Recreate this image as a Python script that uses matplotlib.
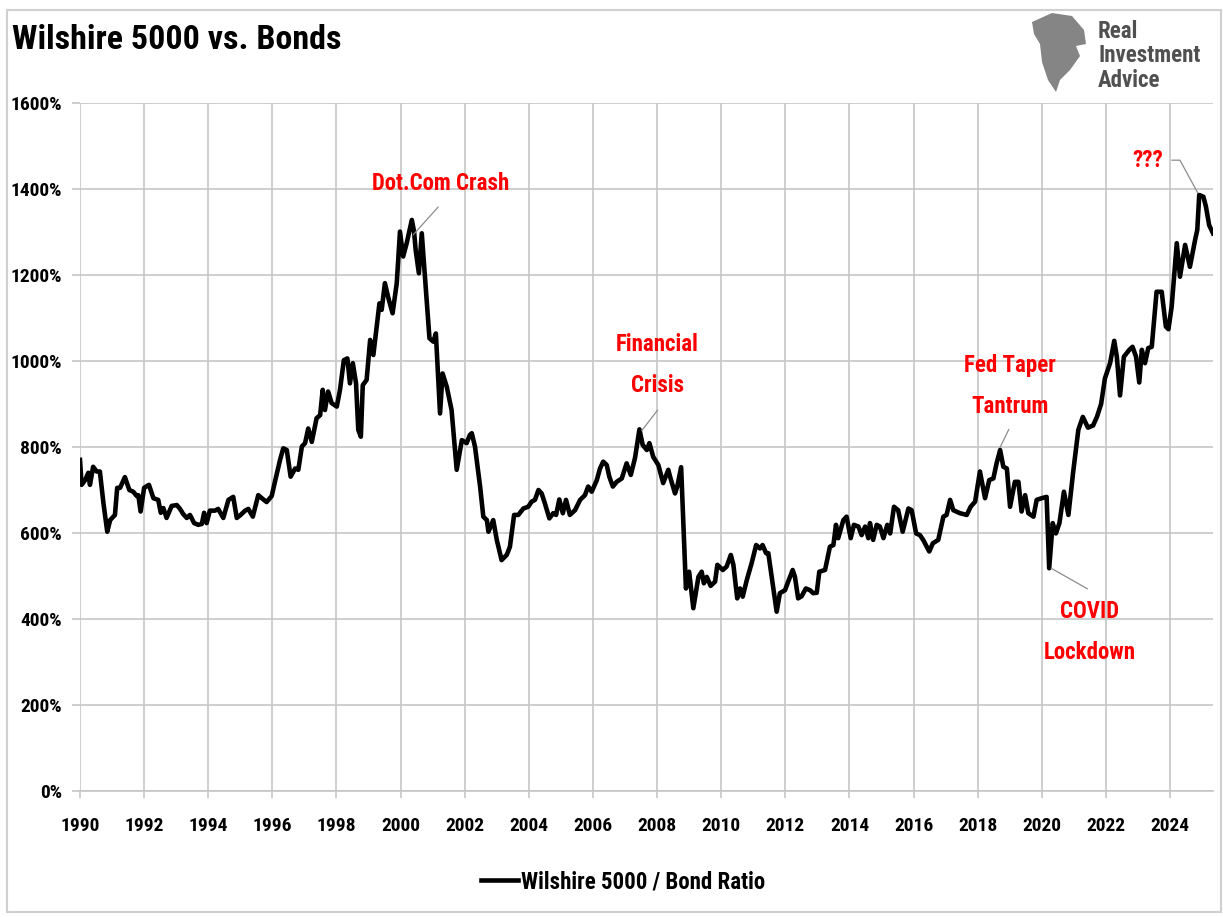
import matplotlib.pyplot as plt
from matplotlib.patches import Polygon, Rectangle

# ratio of Wilshire 5000 to bonds (fractional year, percent)
years = [
    1990.00, 1990.05, 1990.16, 1990.26, 1990.31, 1990.41, 1990.52, 1990.62, 1990.73, 1990.85,
    1990.94, 1991.09, 1991.16, 1991.25, 1991.40, 1991.54, 1991.66, 1991.77, 1991.82, 1991.89,
    1992.00, 1992.15, 1992.29, 1992.44, 1992.52, 1992.60, 1992.70, 1992.86, 1993.02, 1993.12,
    1993.22, 1993.33, 1993.43, 1993.56, 1993.69, 1993.80, 1993.87, 1993.95, 1994.05, 1994.21,
    1994.31, 1994.47, 1994.63, 1994.78, 1994.89, 1995.01, 1995.15, 1995.25, 1995.39, 1995.56,
    1995.67, 1995.82, 1995.98, 1996.08, 1996.24, 1996.34, 1996.45, 1996.57, 1996.71, 1996.81,
    1996.92, 1997.02, 1997.12, 1997.23, 1997.38, 1997.49, 1997.57, 1997.64, 1997.74, 1997.85,
    1998.01, 1998.11, 1998.23, 1998.34, 1998.42, 1998.51, 1998.61, 1998.68, 1998.76, 1998.82,
    1998.94, 1999.05, 1999.15, 1999.34, 1999.41, 1999.51, 1999.62, 1999.75, 1999.88, 1999.98,
    2000.08, 2000.19, 2000.35, 2000.42, 2000.47, 2000.57, 2000.66, 2000.76, 2000.90, 2001.02,
    2001.10, 2001.23, 2001.31, 2001.44, 2001.59, 2001.75, 2001.91, 2002.06, 2002.16, 2002.22,
    2002.32, 2002.48, 2002.58, 2002.69, 2002.74, 2002.89, 2003.00, 2003.15, 2003.31, 2003.41,
    2003.54, 2003.67, 2003.83, 2003.98, 2004.09, 2004.19, 2004.30, 2004.40, 2004.50, 2004.64,
    2004.76, 2004.85, 2004.95, 2005.06, 2005.16, 2005.28, 2005.44, 2005.60, 2005.75, 2005.85,
    2005.96, 2006.12, 2006.22, 2006.32, 2006.43, 2006.51, 2006.62, 2006.74, 2006.90, 2007.05,
    2007.18, 2007.31, 2007.45, 2007.55, 2007.68, 2007.76, 2007.88, 2008.04, 2008.19, 2008.35,
    2008.42, 2008.56, 2008.63, 2008.75, 2008.82, 2008.90, 2009.00, 2009.13, 2009.29, 2009.39,
    2009.46, 2009.55, 2009.67, 2009.81, 2009.88, 2010.05, 2010.17, 2010.30, 2010.38, 2010.50,
    2010.59, 2010.67, 2010.80, 2010.95, 2011.09, 2011.21, 2011.29, 2011.40, 2011.47, 2011.62,
    2011.73, 2011.83, 2011.99, 2012.09, 2012.23, 2012.30, 2012.40, 2012.51, 2012.64, 2012.77,
    2012.87, 2012.98, 2013.06, 2013.24, 2013.39, 2013.50, 2013.58, 2013.65, 2013.81, 2013.91,
    2014.04, 2014.14, 2014.28, 2014.38, 2014.49, 2014.59, 2014.64, 2014.74, 2014.85, 2014.95,
    2015.06, 2015.18, 2015.27, 2015.39, 2015.52, 2015.66, 2015.84, 2015.94, 2016.08, 2016.20,
    2016.30, 2016.49, 2016.60, 2016.77, 2016.93, 2017.03, 2017.14, 2017.24, 2017.45, 2017.66,
    2017.78, 2017.92, 2018.07, 2018.23, 2018.36, 2018.49, 2018.59, 2018.70, 2018.80, 2018.91,
    2019.01, 2019.16, 2019.27, 2019.37, 2019.48, 2019.58, 2019.74, 2019.84, 2020.00, 2020.15,
    2020.23, 2020.34, 2020.44, 2020.55, 2020.69, 2020.83, 2020.98, 2021.14, 2021.28, 2021.44,
    2021.60, 2021.72, 2021.85, 2021.97, 2022.13, 2022.26, 2022.34, 2022.44, 2022.56, 2022.73,
    2022.83, 2022.94, 2023.04, 2023.12, 2023.22, 2023.32, 2023.43, 2023.58, 2023.74, 2023.87,
    2023.95, 2024.05, 2024.21, 2024.31, 2024.47, 2024.62, 2024.78, 2024.85, 2024.91, 2025.04,
    2025.12, 2025.22, 2025.34,
]
ratio = [
    770, 712, 723, 740, 712, 754, 743, 743, 670, 603,
    630, 642, 705, 705, 730, 700, 696, 686, 688, 650,
    705, 712, 681, 677, 647, 658, 635, 663, 665, 656,
    644, 635, 642, 623, 619, 621, 647, 623, 652, 652,
    656, 635, 677, 684, 635, 642, 652, 656, 638, 688,
    681, 672, 686, 719, 770, 797, 793, 731, 750, 747,
    801, 809, 843, 812, 867, 874, 933, 886, 929, 902,
    894, 933, 1002, 1006, 948, 995, 948, 840, 824, 944,
    956, 1049, 1014, 1134, 1119, 1181, 1146, 1111, 1181, 1301,
    1243, 1274, 1328, 1301, 1258, 1204, 1297, 1196, 1053, 1045,
    1064, 878, 971, 940, 886, 747, 816, 809, 828, 832,
    801, 708, 638, 630, 603, 630, 584, 537, 549, 568,
    642, 642, 657, 661, 673, 677, 700, 692, 669, 634,
    646, 642, 678, 646, 677, 642, 653, 677, 688, 708,
    696, 723, 750, 766, 758, 731, 708, 719, 727, 762,
    735, 774, 841, 805, 793, 809, 777, 758, 716, 747,
    727, 692, 708, 753, 623, 471, 510, 425, 498, 510,
    483, 498, 477, 487, 526, 514, 522, 549, 526, 448,
    471, 452, 491, 530, 572, 564, 572, 553, 553, 475,
    417, 460, 467, 487, 514, 498, 448, 453, 471, 467,
    460, 461, 510, 514, 568, 572, 619, 588, 630, 638,
    588, 619, 615, 595, 615, 588, 623, 584, 619, 615,
    588, 619, 599, 661, 653, 603, 657, 653, 599, 595,
    584, 557, 576, 584, 638, 642, 677, 653, 646, 642,
    661, 673, 743, 681, 723, 727, 762, 793, 754, 750,
    661, 719, 719, 650, 688, 646, 638, 677, 681, 684,
    518, 623, 599, 623, 696, 642, 743, 840, 870, 845,
    850, 870, 900, 960, 995, 1047, 1010, 920, 1010, 1026,
    1033, 1010, 950, 1026, 995, 1030, 1033, 1161, 1161, 1080,
    1074, 1126, 1274, 1196, 1270, 1219, 1281, 1305, 1386, 1382,
    1359, 1316, 1297,
]

tick_years = list(range(1990, 2025, 2))
tick_pcts = list(range(0, 1601, 200))

plt.rcParams['font.family'] = ['Roboto Condensed', 'Lato', 'DejaVu Sans']
plt.rcParams['font.weight'] = 'bold'

W, H = 1223, 917
fig = plt.figure(figsize=(W / 100, H / 100), dpi=100)
ax = fig.add_axes([80 / W, 1 - 791 / H, (1213 - 80) / W, (791 - 103) / H])

grid_c = "#c6c6c6"
ax.plot(years, ratio, color="black", lw=3.3, solid_joinstyle="round",
        label="Wilshire 5000 / Bond Ratio", zorder=3)

ax.set_xlim(1990, 2025.34)
ax.set_ylim(0, 1600)
ax.set_xticks(tick_years)
ax.set_xticklabels([str(y) for y in tick_years])
ax.set_yticks(tick_pcts)
ax.set_yticklabels([f"{p}%" for p in tick_pcts])
ax.grid(True, color=grid_c, lw=1.2)
ax.set_axisbelow(True)
for s in ("top", "right", "left"):
    ax.spines[s].set_visible(False)
ax.spines["bottom"].set_color(grid_c)
ax.spines["bottom"].set_linewidth(1.2)
ax.tick_params(axis="x", length=5, width=1.2, color=grid_c, pad=14, labelsize=14)
ax.tick_params(axis="y", length=6, width=1.2, color=grid_c, pad=7, labelsize=14)

red = "#ff0000"
lead = dict(arrowstyle="-", color="#8c8c8c", lw=0.9)
ax.annotate("", xy=(2000.34, 1289), xytext=(2001.23, 1363), arrowprops=lead)
ax.annotate("", xy=(2007.47, 833), xytext=(2008.07, 891), arrowprops=lead)
ax.annotate("", xy=(2018.66, 793), xytext=(2019.01, 847), arrowprops=lead)
ax.annotate("", xy=(2020.22, 521), xytext=(2021.50, 467), arrowprops=lead)
ax.plot([2024.90, 2024.31, 2024.06], [1386, 1467, 1467], color="#8c8c8c", lw=0.9)

ann = dict(color=red, fontsize=16.5, fontweight="bold", ha="center", va="center",
           linespacing=2.0)
ax.text(2001.26, 1412, "Dot.Com Crash", **ann)
ax.text(2008.0, 991, "Financial\nCrisis", **ann)
ax.text(2019.01, 942, "Fed Taper\nTantrum", **ann)
ax.text(2021.50, 370, "COVID\nLockdown", **ann)
ax.text(2023.31, 1467, "???", **ann)

fig.legend(loc="center", bbox_to_anchor=(623 / W, 1 - 882 / H), frameon=False,
           fontsize=16.5, handlelength=1.6, handletextpad=0.12)

fig.text(12 / W, 1 - 40 / H, "Wilshire 5000 vs. Bonds", fontsize=24.5,
         fontweight="bold", ha="left", va="center")

# outer frame
fig.patches.append(Rectangle((7 / W, 1 - 912 / H), (1221 - 7) / W, (912 - 10) / H,
                             transform=fig.transFigure, fill=False,
                             edgecolor="#d0d0d0", lw=1.5))

# logo
eagle = [(1032, 22), (1052, 13), (1072, 16), (1084, 30), (1086, 44), (1076, 46),
         (1080, 56), (1070, 70), (1060, 80), (1056, 92), (1048, 80), (1042, 62),
         (1040, 44), (1034, 34)]
fig.patches.append(Polygon([(x / W, 1 - y / H) for x, y in eagle],
                           transform=fig.transFigure, facecolor="#858585",
                           edgecolor="none"))
fig.text(1098 / W, 1 - 56 / H, "Real\nInvestment\nAdvice", fontsize=16.5,
         fontweight="bold", color="#505050", ha="left", va="center",
         linespacing=1.1)

fig.savefig("out.png", dpi=100)
